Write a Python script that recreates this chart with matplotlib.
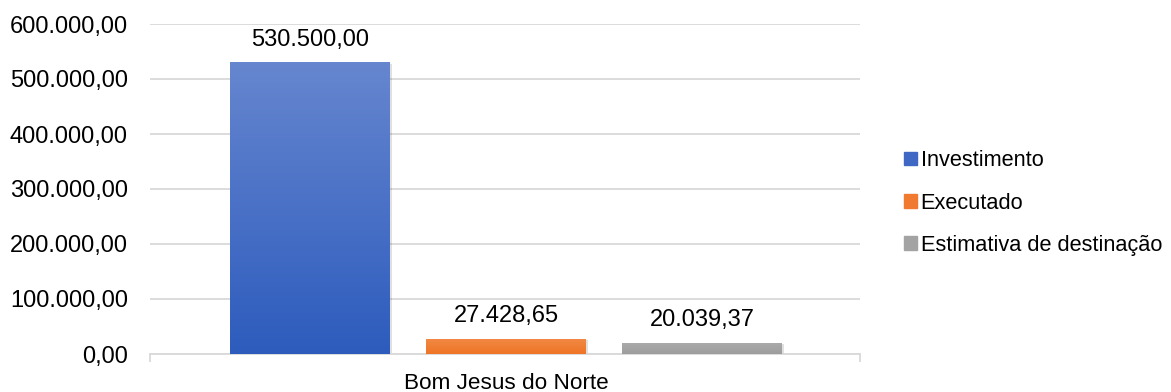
import matplotlib.pyplot as plt
import numpy as np
from matplotlib.colors import LinearSegmentedColormap

plt.rcParams['font.family'] = ['Liberation Sans', 'DejaVu Sans']

categoria = 'Bom Jesus do Norte'
series = ['Investimento', 'Executado', 'Estimativa de destinação']
valores = [530500.00, 27428.65, 20039.37]
cores = [('#6686cf', '#2d5cbd'), ('#f28a45', '#ee7426'), ('#ababab', '#9d9d9d')]
legenda_cores = ['#3f68c4', '#ef7a30', '#a3a3a3']

def fmt_br(v):
    s = f'{v:,.2f}'
    return s.replace(',', 'X').replace('.', ',').replace('X', '.')

fig = plt.figure(figsize=(11.71, 3.92), dpi=100)
ax = fig.add_axes([150/1171, 1-354/392, 710/1171, 330/392])

pos = np.array([-1.0, 0.0, 1.0])
largura = 0.816
barras = ax.bar(pos, valores, width=largura, color='none', zorder=3)

# gradiente vertical em cada barra + sombra leve
for b, (c_top, c_bot), v in zip(barras, cores, valores):
    x0 = b.get_x()
    sh = plt.Rectangle((x0 + 0.012, -2500), largura, v, color='#000000', alpha=0.12, zorder=2, lw=0)
    ax.add_patch(sh)
    cmap = LinearSegmentedColormap.from_list('g', [c_bot, c_top])
    grad = np.linspace(0, 1, 256).reshape(-1, 1)
    im = ax.imshow(grad, cmap=cmap, aspect='auto', origin='lower',
                   extent=(x0, x0 + largura, 0, v), zorder=3)
    im.set_clip_path(b)
    ax.text(b.get_x() + largura/2, v + 21000, fmt_br(v), ha='center', va='bottom', fontsize=17, zorder=4)

ax.set_xlim(-1.816, 1.806)
ax.set_ylim(0, 600000)
ax.set_yticks(np.arange(0, 600001, 100000))
ax.set_yticklabels([fmt_br(t) for t in np.arange(0, 600001, 100000)], fontsize=17)
ax.grid(axis='y', color='#d9d9d9', lw=1.3, zorder=0)
ax.set_axisbelow(True)
for s in ['top', 'right', 'left']:
    ax.spines[s].set_visible(False)
ax.spines['bottom'].set_color('#d9d9d9')
ax.spines['bottom'].set_linewidth(1.3)
ax.tick_params(axis='y', length=0, pad=16)
ax.set_xticks([-1.816, 1.806])
ax.set_xticklabels(['', ''])
ax.tick_params(axis='x', length=6, color='#d9d9d9', width=1.3)
ax.text(0, -0.058, categoria, transform=ax.get_xaxis_transform(), ha='center', va='top', fontsize=16.2)

handles = [plt.Rectangle((0, 0), 1, 1, color=c) for c in legenda_cores]
fig.legend(handles, series, loc='center left', bbox_to_anchor=(884/1171, 1-203/392),
           frameon=False, fontsize=15.7, handlelength=0.6, handleheight=0.6,
           handletextpad=0.18, labelspacing=0.98)

fig.savefig('out.png', dpi=100)
